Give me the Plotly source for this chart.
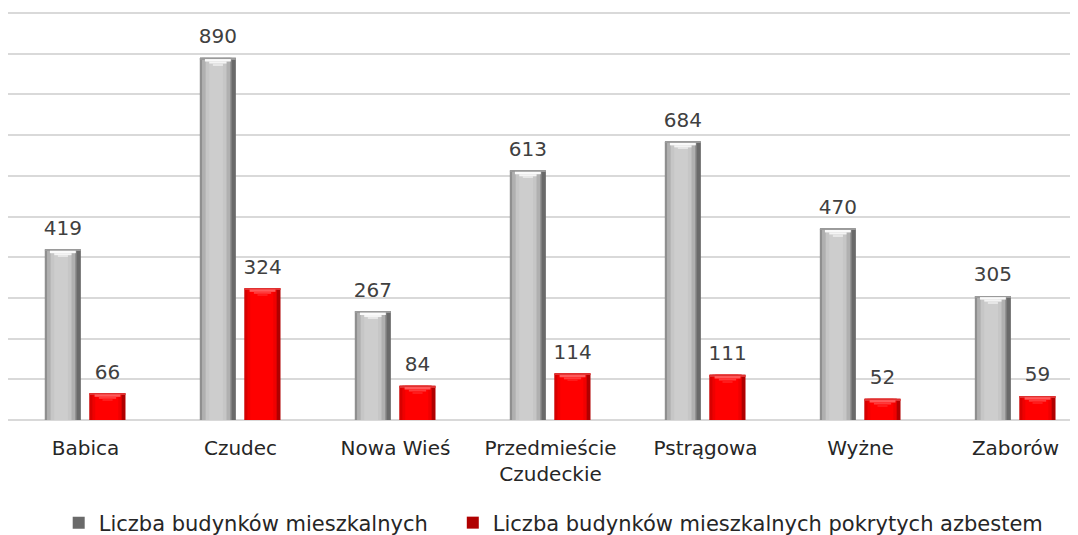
import plotly.graph_objects as go

categories = ["Babica", "Czudec", "Nowa Wieś", "Przedmieście<br>Czudeckie", "Pstrągowa", "Wyżne", "Zaborów"]
total_buildings = [419, 890, 267, 613, 684, 470, 305]
asbestos_buildings = [66, 324, 84, 114, 111, 52, 59]
series_names = ["Liczba budynków mieszkalnych", "Liczba budynków mieszkalnych pokrytych azbestem"]

FONT = "DejaVu Sans"
W = 0.232  # bar width in category units
gray_off = -0.262
red_off = 0.026
LABEL_GAP = 16  # in data units, space between bar top and its label

fig = go.Figure()

def add_bar(values, name, off, layers, chevron, legend_name):
    for i, (ro, rw, col) in enumerate(layers):
        fig.add_trace(go.Bar(
            x=categories, y=values,
            offset=off + ro * W, width=rw * W,
            marker=dict(color=col, line=dict(width=0)),
            name=legend_name, legendgroup=name,
            showlegend=(i == 0),
            hovertemplate=name + ": %{y}<extra></extra>" if i == 0 else None,
            hoverinfo=None if i == 0 else "skip",
        ))
    # top bevel (chevron) built from the same values
    for (top_d, bot_d, ro, rw, col) in chevron:
        fig.add_trace(go.Bar(
            x=categories, y=[bot_d - top_d] * len(values),
            base=[v - bot_d for v in values],
            offset=off + ro * W, width=rw * W,
            marker=dict(color=col, line=dict(width=0)),
            showlegend=False, hoverinfo="skip", legendgroup=name,
        ))
    # value labels
    fig.add_trace(go.Bar(
        x=categories, y=[LABEL_GAP] * len(values), base=values,
        offset=off, width=W,
        marker=dict(color="rgba(0,0,0,0)", line=dict(width=0)),
        text=[str(v) for v in values], textposition="outside",
        constraintext="none",
        textfont=dict(family=FONT, size=20, color="#404040"),
        cliponaxis=False, showlegend=False, hoverinfo="skip", legendgroup=name,
    ))

gray_layers = [
    (0.0, 1.0, "#6a6a6a"),
    (0.0, 0.88, "#8f8f8f"),
    (0.06, 0.78, "#b0b0b0"),
    (0.16, 0.58, "#c6c6c6"),
    (0.26, 0.38, "#cdcdcd"),
]
gray_chev = [
    (0, 3, 0.0, 1.0, "#9a9a9a"),
    (3, 9, 0.14, 0.72, "#fafafa"),
    (9, 14, 0.26, 0.48, "#f4f4f4"),
    (14, 18, 0.36, 0.28, "#e6e6e6"),
]
red_layers = [
    (0.0, 1.0, "#b00000"),
    (0.0, 0.9, "#d80000"),
    (0.08, 0.8, "#f00000"),
    (0.16, 0.64, "#ff0000"),
]
red_chev = [
    (0, 3, 0.0, 1.0, "#e03030"),
    (3, 9, 0.14, 0.72, "#ff5a5a"),
    (9, 14, 0.26, 0.48, "#ff3a3a"),
    (14, 18, 0.36, 0.28, "#ff1a1a"),
]
NB = "\u00a0"
add_bar(total_buildings, series_names[0], gray_off, gray_layers, gray_chev, series_names[0] + NB * 3)
add_bar(asbestos_buildings, series_names[1], red_off, red_layers, red_chev, series_names[1])

fig.update_layout(
    width=1070, height=527,
    margin=dict(l=0, r=0, t=1, b=115, autoexpand=False),
    barmode="overlay",
    plot_bgcolor="white", paper_bgcolor="white",
    font=dict(family=FONT, size=20, color="#262626"),
    showlegend=True,
    legend=dict(orientation="h", x=0.510, xanchor="center", y=-0.2506, yanchor="middle",
                font=dict(family=FONT, size=21, color="#262626"),
                itemwidth=30, traceorder="normal"),
)
fig.update_xaxes(
    type="category", range=[-0.5, 6.403],
    showgrid=False, showline=False, ticks="",
    ticklabelstandoff=14,
    tickfont=dict(family=FONT, size=20, color="#262626"),
)
fig.update_yaxes(
    range=[0, 1010], dtick=100, showticklabels=False,
    showgrid=True, gridcolor="#d9d9d9", gridwidth=2,
    zeroline=True, zerolinecolor="#d9d9d9", zerolinewidth=2,
)

fig.write_html("out.html")
